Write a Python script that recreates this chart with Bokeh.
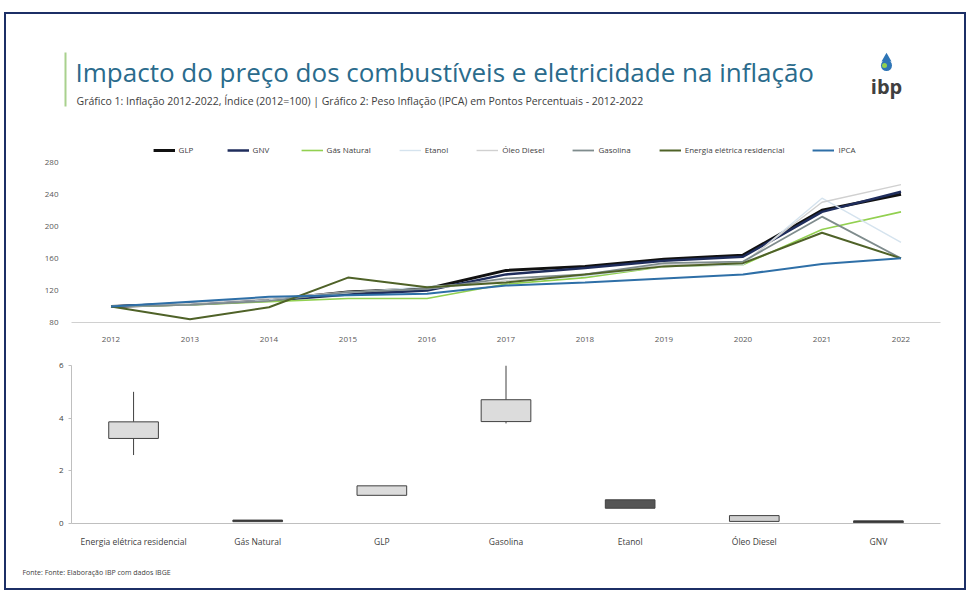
from bokeh.plotting import figure
from bokeh.models import Range1d, FixedTicker, FactorRange
from bokeh.layouts import column
from bokeh.embed import file_html
from bokeh.resources import INLINE
from bokeh.core.properties import value

# ---------------- data ----------------
years = [2012, 2013, 2014, 2015, 2016, 2017, 2018, 2019, 2020, 2021, 2022]
glp = [100, 103, 108, 118, 122, 145, 150, 159, 164, 220, 240]
gnv = [100, 104, 107, 115, 120, 140, 148, 157, 162, 218, 243]
gas_natural = [100, 102, 106, 110, 110, 128, 136, 150, 152, 196, 218]
etanol = [100, 102, 108, 117, 125, 130, 138, 150, 152, 235, 180]
oleo_diesel = [100, 104, 110, 118, 122, 132, 140, 152, 154, 230, 252]
gasolina = [100, 102, 107, 118, 122, 135, 140, 154, 156, 212, 160]
energia = [100, 84, 99, 136, 124, 130, 140, 150, 154, 192, 160]
ipca = [100, 106, 112, 114, 116, 126, 130, 135, 140, 153, 160]
series_names = ["GLP", "GNV", "Gás Natural", "Etanol", "Óleo Diesel",
                "Gasolina", "Energia elétrica residencial", "IPCA"]
y_ticks_top = [80, 120, 160, 200, 240, 280]

box_categories = ["Energia elétrica residencial", "Gás Natural", "GLP", "Gasolina",
                  "Etanol", "Óleo Diesel", "GNV"]
box_lower = [2.6, 0.07, 1.07, 3.8, 0.58, 0.08, 0.03]
box_q1 = [3.23, 0.07, 1.07, 3.87, 0.58, 0.08, 0.03]
box_q3 = [3.86, 0.13, 1.43, 4.70, 0.90, 0.30, 0.10]
box_upper = [5.0, 0.13, 1.43, 6.0, 0.90, 0.30, 0.10]
y_ticks_bottom = [0, 2, 4, 6]

title_text = "Impacto do preço dos combustíveis e eletricidade na inflação"
subtitle_text = ("Gráfico 1: Inflação 2012-2022, Índice (2012=100) | Gráfico 2: Peso Inflação "
                 "(IPCA) em Pontos Percentuais - 2012-2022")
footer_text = "Fonte: Fonte: Elaboração IBP com dados IBGE"

# ---------------- styles ----------------
FONT = "Open Sans"
line_styles = {
    "GLP": ("#111111", 3.0),
    "GNV": ("#1f2d5c", 2.5),
    "Gás Natural": ("#92d050", 1.6),
    "Etanol": ("#d5e3ee", 1.4),
    "Óleo Diesel": ("#d0d0d0", 1.4),
    "Gasolina": ("#7f8c8d", 1.8),
    "Energia elétrica residencial": ("#4f6228", 2.0),
    "IPCA": ("#2e6fa7", 2.0),
}
box_fill = {
    "Energia elétrica residencial": "#dcdcdc",
    "Gás Natural": "#333333",
    "GLP": "#dcdcdc",
    "Gasolina": "#dcdcdc",
    "Etanol": "#555555",
    "Óleo Diesel": "#d0d0d0",
    "GNV": "#333333",
}

W = 958
X0 = 6  # page x of the layout's inner left edge


def bare(fig):
    fig.grid.visible = False
    fig.outline_line_color = None
    fig.background_fill_color = "white"
    fig.border_fill_color = "white"


# ---------------- header ----------------
header = figure(width=W, height=111, x_range=Range1d(X0, X0 + W), y_range=Range1d(125, 14),
                x_axis_type=None, y_axis_type=None, output_backend="svg",
                toolbar_location=None, min_border=0)
header.frame_align = False
bare(header)
header.segment(x0=[65], y0=[52], x1=[65], y1=[106], line_color="#a9d18e", line_width=2)
header.text(x=[75], y=[71], text=[title_text], text_font=value(FONT),
            text_font_size="26px", text_color="#2a6b8c", text_baseline="middle")
header.text(x=[76], y=[100], text=[subtitle_text], text_font=value(FONT),
            text_font_size="10.5px", text_color="#404040", text_baseline="middle")
header.scatter(x=[886], y=[65], marker="circle", size=11, fill_color="#2e75b6",
               line_color=None)
header.scatter(x=[886], y=[58], marker="triangle", size=10, fill_color="#2e75b6",
               line_color=None)
header.scatter(x=[884], y=[65], marker="circle", size=5, fill_color="#92d050",
               line_color=None)
header.text(x=[886], y=[86], text=["ibp"], text_font=value(FONT),
            text_font_size="20px", text_font_style="bold", text_color="#404040",
            text_align="center", text_baseline="middle")

# ---------------- top chart ----------------
top = figure(width=W, height=223, x_range=Range1d(2011.5, 2022.5), y_range=Range1d(80, 307),
             output_backend="svg", toolbar_location=None,
             min_border_left=64, min_border_right=24, min_border_top=15, min_border_bottom=26)
bare(top)
all_series = [glp, gnv, gas_natural, etanol, oleo_diesel, gasolina, energia, ipca]
for name, vals in zip(series_names, all_series):
    col, lw = line_styles[name]
    top.line(years, vals, line_color=col, line_width=lw, legend_label=name)

top.xaxis.ticker = FixedTicker(ticks=years)
top.yaxis.ticker = FixedTicker(ticks=y_ticks_top)
for ax in top.xaxis + top.yaxis:
    ax.major_tick_line_color = None
    ax.minor_tick_line_color = None
    ax.major_label_text_font = FONT
    ax.major_label_text_font_size = "8px"
    ax.major_label_text_color = "#595959"
top.xaxis.axis_line_color = "#d0d0d0"
top.yaxis.axis_line_color = None
top.yaxis.major_label_standoff = 7
top.xaxis.major_label_standoff = 8

lg = top.legend[0]
lg.orientation = "horizontal"
lg.location = "top_center"
lg.background_fill_alpha = 0
lg.border_line_color = None
lg.label_text_font = FONT
lg.label_text_font_size = "8px"
lg.label_text_color = "#404040"
lg.glyph_width = 22
lg.glyph_height = 10
lg.label_standoff = 4
lg.spacing = 28
lg.padding = 0
lg.margin = 4

# ---------------- bottom chart ----------------
bot = figure(width=W, height=202, x_range=FactorRange(factors=box_categories),
             y_range=Range1d(0, 6), output_backend="svg", toolbar_location=None,
             min_border_left=65, min_border_right=24, min_border_top=17, min_border_bottom=27)
bare(bot)
bot.segment(x0=box_categories, y0=box_q3, x1=box_categories, y1=box_upper,
            line_color="#404040", line_width=1)
bot.segment(x0=box_categories, y0=box_lower, x1=box_categories, y1=box_q1,
            line_color="#404040", line_width=1)
bot.vbar(x=box_categories, width=0.4, top=box_q3, bottom=box_q1,
         fill_color=[box_fill[c] for c in box_categories], line_color="#404040",
         line_width=1)
bot.yaxis.ticker = FixedTicker(ticks=y_ticks_bottom)
for ax in bot.xaxis + bot.yaxis:
    ax.minor_tick_line_color = None
    ax.major_label_text_font = FONT
    ax.major_label_text_font_size = "8px"
    ax.major_label_text_color = "#404040"
    ax.axis_line_color = "#bfbfbf"
bot.xaxis.major_tick_line_color = None
bot.yaxis.major_tick_line_color = "#bfbfbf"
bot.yaxis.major_tick_out = 3
bot.yaxis.major_tick_in = 0
bot.yaxis.major_label_standoff = 5
bot.xaxis.major_label_standoff = 6
bot.xaxis.major_label_text_font_size = "8.5px"

# ---------------- footer ----------------
footer = figure(width=W, height=38, x_range=Range1d(X0, X0 + W), y_range=Range1d(588, 550),
                x_axis_type=None, y_axis_type=None, output_backend="svg",
                toolbar_location=None, min_border=0)
footer.frame_align = False
bare(footer)
footer.text(x=[22], y=[572], text=[footer_text], text_font=value(FONT),
            text_font_size="7px", text_color="#404040", text_baseline="middle")

layout = column(header, top, bot, footer,
                styles={"border": "2px solid #1c2f66"}, margin=(12, 0, 0, 4))

open("out.html", "w").write(file_html(layout, INLINE))
